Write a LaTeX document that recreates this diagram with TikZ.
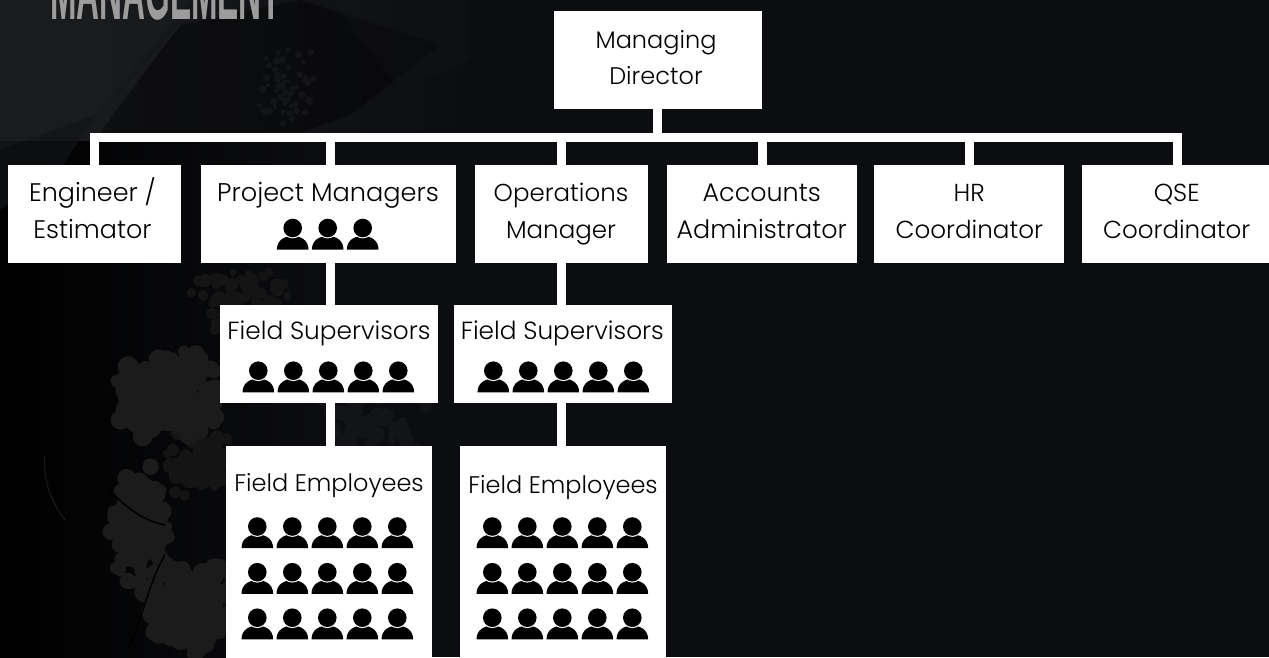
\documentclass[tikz,border=0pt]{standalone}
\usepackage{fontspec}
\setmainfont{Poppins Light}
\newfontfamily\titlefont{Liberation Sans}[BoldFont={Liberation Sans Bold}]
\definecolor{bgbase}{HTML}{0C0D11}
\definecolor{bgsoft}{HTML}{1B1C1E}
\definecolor{bgmid}{HTML}{131417}
\definecolor{treegrey}{HTML}{1B1B1C}
\definecolor{treedim}{HTML}{141415}
\definecolor{titlegrey}{HTML}{9C9C9C}
\tikzset{
  x=1pt,y=-1pt,
  conn/.style={draw=white,line width=9pt,line join=miter,line cap=butt},
  orgbox/.style={fill=white,draw=none,inner sep=0pt,anchor=center},
  lbl/.style={text=black,font=\fontsize{#1}{36.5}\selectfont,align=center,inner sep=0pt,anchor=base},
  person/.pic={
    \fill[black] (-15.8,21.6) .. controls (-15.8,12) and (-8,8) .. (0,8) .. controls (8,8) and (15.8,12) .. (15.8,21.6) -- cycle;
    \fill[white] (0,0) circle (10.4);
    \fill[black] (0,0) circle (9.3);
  }
}
\newcommand{\orgbox}[5]{% name x0 y0 x1 y1
  \coordinate (#1c) at ({(#2+#4)/2},{(#3+#5)/2});
  \node[orgbox,minimum width={(#4-#2)*1pt},minimum height={(#5-#3)*1pt}] (#1) at (#1c) {};
}
\newcommand{\iconrow}[3]{% x0 y n
  \foreach \k in {1,...,#3} { \pic at ({#1+35*(\k-1)},#2) {person}; }
}
% soft dappled patch: cx cy rx ry n radius colour
\newcommand{\dapple}[7]{%
  \foreach \i in {1,...,#5} {
    \pgfmathsetmacro{\dx}{#3*(rand+rand)/2}
    \pgfmathsetmacro{\dy}{#4*(rand+rand)/2}
    \pgfmathsetmacro{\dr}{#6*(0.5+0.5*rnd)}
    \fill[#7] ({#1+\dx},{#2+\dy}) circle (\dr);
  }
}
\begin{document}
\begin{tikzpicture}
\pgfmathsetseed{11}
\useasboundingbox (0,0) rectangle (1269,657);
\clip (0,0) rectangle (1269,657);
% --- photographic background, dim
\fill[bgbase] (0,0) rectangle (1269,657);
\shade[left color=black,right color=bgbase] (0,140) rectangle (340,657);
\shade[left color=bgsoft,right color=bgbase] (0,0) rectangle (470,140);
\fill[bgsoft,opacity=.7] (0,0) -- (190,0) -- (95,115) -- (0,150) -- cycle;
\fill[bgmid,opacity=.7] (0,150) -- (95,115) -- (60,170) -- (0,210) -- cycle;
\fill[black,opacity=.4] (180,25) -- (300,0) -- (440,45) -- (350,115) -- (300,133) -- (100,133) -- cycle;
\fill[bgmid,opacity=.35] (330,0) -- (470,0) -- (470,60) -- (400,90) -- cycle;
\draw[bgsoft,line width=1.5pt] (90,133) -- (180,25);
\dapple{285}{85}{35}{45}{60}{4}{bgmid}
% tree
\dapple{240}{300}{60}{35}{70}{7}{treedim}
\dapple{370}{430}{60}{50}{70}{8}{bgmid}
\dapple{200}{465}{40}{35}{70}{9}{treedim}
\dapple{170}{395}{55}{45}{170}{11}{treegrey}
\dapple{140}{530}{35}{65}{130}{10}{treegrey}
\dapple{190}{610}{50}{50}{130}{11}{treegrey}
\draw[black,line width=1.5pt] (108,490) .. controls (125,505) and (140,520) .. (165,525);
\draw[black,line width=1.5pt] (165,555) .. controls (150,580) and (145,610) .. (128,650);
\draw[treegrey,line width=1pt] (45,455) .. controls (43,480) and (50,500) .. (65,520);
% --- title, cut by the top edge as in the reference
\node[anchor=base west,inner sep=0pt,text=titlegrey,font=\titlefont\bfseries] (title) at (50,19)
  {\resizebox{231pt}{60pt}{MANAGEMENT}};
% --- boxes
\orgbox{dir}{554}{11}{762}{109}
\orgbox{eng}{8}{165}{181}{263}
\orgbox{pm}{201}{165}{456}{263}
\orgbox{ops}{475}{165}{648}{263}
\orgbox{acc}{667}{165}{857}{263}
\orgbox{hr}{874}{165}{1064}{263}
\orgbox{qse}{1082}{165}{1272}{263}
\orgbox{fsa}{220}{305}{438}{403}
\orgbox{fsb}{454}{305}{672}{403}
\orgbox{fea}{226}{446}{432}{660}
\orgbox{feb}{460}{446}{666}{660}
% --- connector anchor points
\coordinate (bus) at (657.5,137.5);
\coordinate (pmtop) at (330.5,165);
\coordinate (qsetop) at (1177.5,165);
\coordinate (pmbot) at (330.5,263);
\coordinate (fsatop) at (330.5,305);
\coordinate (fsabot) at (330.5,403);
\coordinate (featop) at (330.5,446);
\coordinate (opstop) at (561.5,165);
\coordinate (opsbot) at (561.5,263);
\coordinate (fsbtop) at (561.5,305);
\coordinate (fsbbot) at (561.5,403);
\coordinate (febtop) at (561.5,446);
% --- connectors
\draw[conn] (bus |- dir.south) -- (bus);
\draw[conn] (eng.north) -- (eng.north |- bus) -- (qsetop |- bus) -- (qsetop);
\draw[conn] (pmtop |- bus) -- (pmtop);
\draw[conn] (opstop |- bus) -- (opstop);
\draw[conn] (acc.north |- bus) -- (acc.north);
\draw[conn] (hr.north |- bus) -- (hr.north);
\draw[conn] (pmbot) -- (fsatop);
\draw[conn] (fsabot) -- (featop);
\draw[conn] (opsbot) -- (fsbtop);
\draw[conn] (fsbbot) -- (febtop);
% --- labels
\node[lbl=24] (tdir) at (656,84.7) {Managing\\Director};
\node[lbl=25.4] (teng) at (92.5,238) {Engineer /\\Estimator};
\node[lbl=25.6] (tpm) at (328,201.7) {Project Managers};
\node[lbl=24.5] (tops) at (561,238) {Operations\\Manager};
\node[lbl=25.4] (tacc) at (761.7,238) {Accounts\\Administrator};
\node[lbl=24.6] (thr) at (969.3,238) {HR\\Coordinator};
\node[lbl=24.6] (tqse) at (1176.7,238) {QSE\\Coordinator};
\node[lbl=24.8] (tfsa) at (329,339.5) {Field Supervisors};
\node[lbl=24.8] (tfsb) at (562.3,339.5) {Field Supervisors};
\node[lbl=24] (tfea) at (329,491.7) {Field Employees};
\node[lbl=24] (tfeb) at (563,493.3) {Field Employees};
% --- people
\iconrow{292.7}{228}{3}
\iconrow{258.3}{370.7}{5}
\iconrow{493.3}{370.7}{5}
\iconrow{257.3}{526.5}{5}
\iconrow{257.3}{572.2}{5}
\iconrow{257.3}{617.7}{5}
\iconrow{492.3}{526.5}{5}
\iconrow{492.3}{572.2}{5}
\iconrow{492.3}{617.7}{5}
\end{tikzpicture}
\end{document}
